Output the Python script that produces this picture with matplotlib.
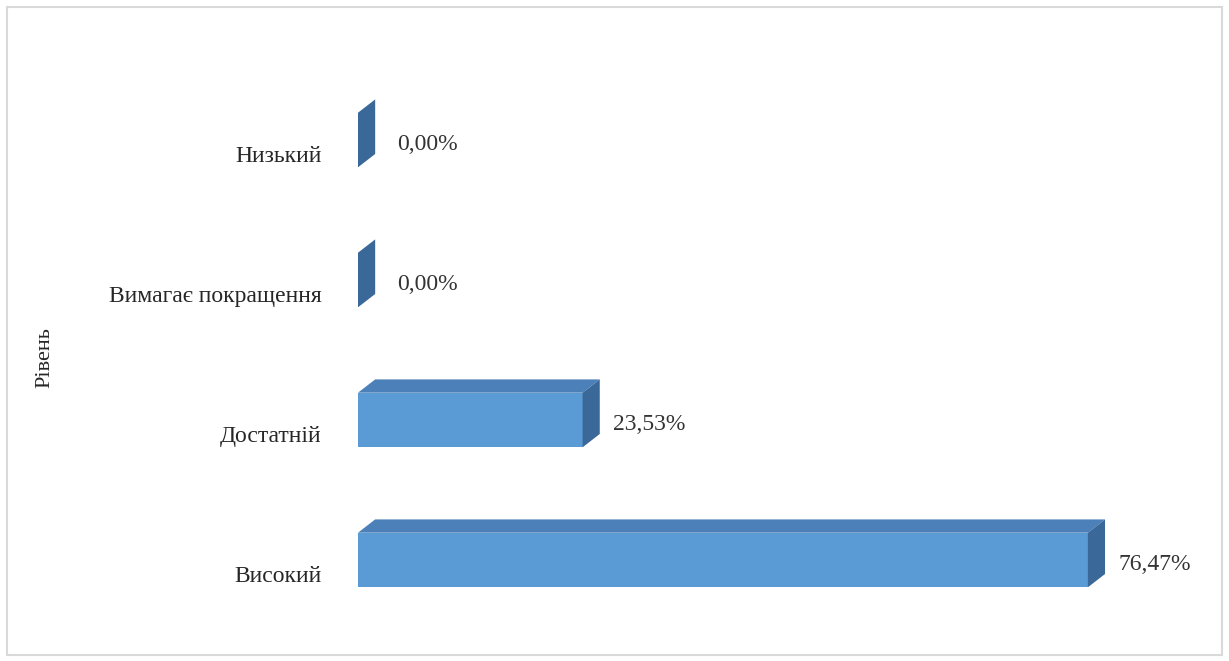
import matplotlib
matplotlib.use("Agg")
import matplotlib.pyplot as plt
from matplotlib.patches import Polygon, Rectangle

# data (bottom to top)
categories = ["Високий", "Достатній", "Вимагає покращення", "Низький"]
values = [76.47, 23.53, 0.00, 0.00]
axis_title = "Рівень"

FRONT = "#5B9BD5"
TOP = "#4C80B8"
SIDE = "#3A6899"


def fmt(v):
    return f"{v:.2f}".replace(".", ",") + "%"


def main():
    plt.rcParams["font.family"] = ["Liberation Serif", "DejaVu Serif"]
    fig = plt.figure(figsize=(12.29, 6.61), dpi=100)

    # outer frame of the chart area
    fig.patches.append(Rectangle((7 / 1229, 6 / 661), 1215 / 1229, 648 / 661,
                                 transform=fig.transFigure, fill=False,
                                 edgecolor="#D9D9D9", linewidth=1.5))

    ax = fig.add_axes([358 / 1229, 3 / 661, 859 / 1229, 616 / 661])
    ax.set_xlim(0, 90)
    ax.set_ylim(-0.7, 3.7)
    ax.axis("off")

    h = 0.39     # bar thickness
    dx = 1.8     # depth in x (data units)
    dy = 0.095   # depth in y (data units)

    ys = list(range(len(categories)))
    ax.barh(ys, values, height=h, color=FRONT, zorder=2)

    for y, v, name in zip(ys, values, categories):
        lo, hi = y - h / 2, y + h / 2
        # top face
        if v > 0:
            ax.add_patch(Polygon([(0, hi), (dx, hi + dy), (v + dx, hi + dy), (v, hi)],
                                 closed=True, facecolor=TOP, edgecolor="none", zorder=2))
        # side face
        ax.add_patch(Polygon([(v, lo), (v + dx, lo + dy), (v + dx, hi + dy), (v, hi)],
                             closed=True, facecolor=SIDE, edgecolor="none", zorder=3))
        ax.text(v + 3.2 if v > 0 else 4.1, y - 0.03, fmt(v), ha="left", va="center",
                fontsize=17, color="#333333")
        ax.text(-3.8, y - 0.12, name, ha="right", va="center",
                fontsize=17, color="#262626")

    fig.text(45 / 1229, 1 - 358 / 661, axis_title, rotation=90, ha="center",
             va="center", fontsize=16, color="#262626")

    fig.savefig("out.png", dpi=100, facecolor="white")


if __name__ == "__main__":
    main()
